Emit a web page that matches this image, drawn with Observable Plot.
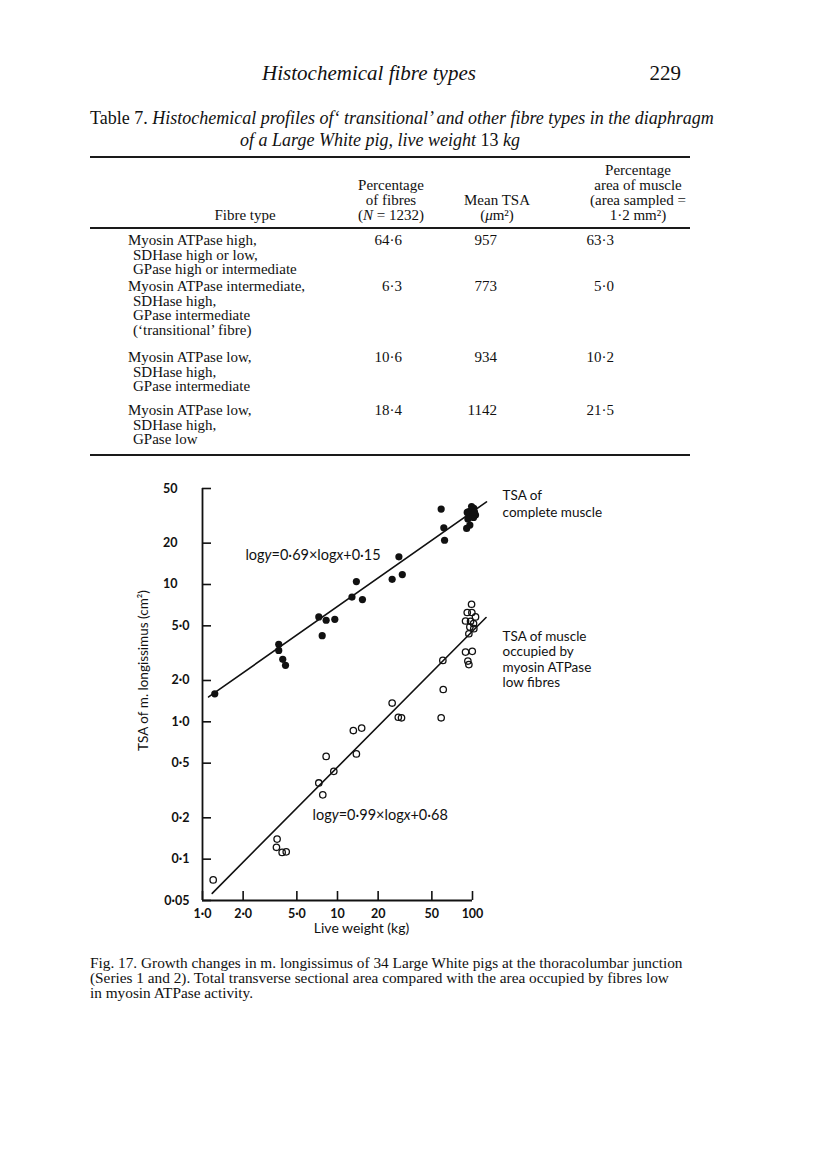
<!DOCTYPE html>
<html><head><meta charset="utf-8">
<script src="https://cdn.jsdelivr.net/npm/d3@7"></script>
<script src="https://cdn.jsdelivr.net/npm/@observablehq/plot@0.6"></script>
<style>
html,body{margin:0;padding:0;background:#fff;}
#page{position:relative;width:816px;height:1160px;overflow:hidden;font-family:"Liberation Serif","Times New Roman",serif;color:#111;}
.t{position:absolute;white-space:nowrap;font-size:15px;line-height:16px;}
.c{transform:translateX(-50%);}
.r{transform:translateX(-100%);}
.rule{position:absolute;left:90px;width:600px;background:#1a1a1a;}
#chart{position:absolute;left:0;top:470px;}
</style></head>
<body><div id="page"></div>
<script>
// ---------- Table 7 data ----------
const fibreTypes = [
  ["Myosin ATPase high,", "SDHase high or low,", "GPase high or intermediate"],
  ["Myosin ATPase intermediate,", "SDHase high,", "GPase intermediate", "(‘transitional’ fibre)"],
  ["Myosin ATPase low,", "SDHase high,", "GPase intermediate"],
  ["Myosin ATPase low,", "SDHase high,", "GPase low"]
];
const pctFibres = ["64·6", "6·3", "10·6", "18·4"];
const meanTSA = ["957", "773", "934", "1142"];
const pctArea = ["63·3", "5·0", "10·2", "21·5"];

// ---------- Fig. 17 data ----------
// TSA of complete muscle (filled circles)
const weightComplete = [1.233, 3.67, 3.67, 3.93, 4.12, 7.27, 7.70, 8.24, 9.55, 12.8, 13.8, 15.3, 25.4, 28.5, 30.2, 58.6, 61.3, 62.1,
  98.4, 102.3, 94.0, 99.6, 105.3, 96.7, 101.8, 90.5, 95.6, 91.4, 98.9, 100.6, 92.4, 103.5];
const tsaComplete = [1.60, 3.67, 3.31, 2.85, 2.58, 5.81, 4.24, 5.49, 5.58, 8.1, 10.5, 7.77, 10.9, 15.9, 11.8, 35.4, 25.9, 21.0,
  36.9, 35.9, 34.0, 33.0, 32.0, 31.2, 30.8, 25.6, 27.1, 33.5, 34.8, 31.8, 30.0, 33.6];
// TSA occupied by myosin ATPase low fibres (open circles)
const weightLow = [1.20, 3.57, 3.53, 3.89, 4.17, 7.27, 7.78, 8.24, 9.39, 13.1, 13.8, 15.1, 25.4, 28.2, 29.8, 58.6, 60.3, 60.7,
  98.4, 91.4, 98.9, 105.3, 88.8, 96.7, 101.8, 95.6, 102.3, 94.0, 88.8, 99.6, 92.4, 94.0];
const tsaLow = [0.0706, 0.140, 0.122, 0.112, 0.113, 0.359, 0.294, 0.56, 0.436, 0.864, 0.584, 0.90, 1.37, 1.08, 1.07, 1.07, 2.80, 1.72,
  7.18, 6.25, 6.25, 5.81, 5.42, 5.39, 5.19, 4.91, 4.77, 4.38, 3.22, 3.26, 2.77, 2.61];

// fitted lines log y = a·log x + b (open-circle intercept as drawn on the cm² axis)
const fitNames = ["complete", "low"];
const fitSlopes = [0.69, 0.99];
const fitIntercepts = [0.15, -1.32];
const fitFrom = [1.11, 1.18];
const fitTo = [127, 126];
const fitLabels = ["logy=0·69×logx+0·15", "logy=0·99×logx+0·68"];

const xTicks = [1, 2, 5, 10, 20, 50, 100];
const xTickLabels = ["1·0", "2·0", "5·0", "10", "20", "50", "100"];
const yTicks = [0.05, 0.1, 0.2, 0.5, 1, 2, 5, 10, 20, 50];
const yTickLabels = ["0·05", "0·1", "0·2", "0·5", "1·0", "2·0", "5·0", "10", "20", "50"];

// ---------- page text ----------
const page = document.getElementById("page");
function put(html, x, y, cls = "", style = "") {
  const d = document.createElement("div");
  d.className = "t " + cls;
  d.style.left = x + "px";
  d.style.top = (y - 9) + "px";
  d.style.cssText += style;
  d.innerHTML = html;
  page.appendChild(d);
  return d;
}
function rule(y, h) {
  const d = document.createElement("div");
  d.className = "rule";
  d.style.top = y + "px";
  d.style.height = h + "px";
  page.appendChild(d);
}
put("<i>Histochemical fibre types</i>", 369, 70, "c", "font-size:21px;line-height:24px;");
put("229", 681, 70, "r", "font-size:21px;line-height:24px;");
put("Table 7. <i>Histochemical profiles of‘ transitional’ and other fibre types in the diaphragm</i>", 90, 117, "", "font-size:18px;line-height:20px;");
put("<i>of a Large White pig, live weight</i> 13 <i>kg</i>", 380, 139, "c", "font-size:18px;line-height:20px;");
rule(156, 2);
put("Percentage", 638, 171, "c");
put("Percentage", 391, 186, "c");
put("area of muscle", 638, 186, "c");
put("of fibres", 391, 201, "c");
put("Mean TSA", 497, 201, "c");
put("(area sampled =", 638, 201, "c");
put("Fibre type", 245, 216, "c");
put("(<i>N</i> = 1232)", 391, 216, "c");
put("(<i>μ</i>m²)", 497, 216, "c");
put("1·2 mm²)", 638, 216, "c");
rule(227, 1.5);
const rowTop = [241, 287, 358, 411];
fibreTypes.forEach((lines, i) => {
  lines.forEach((s, j) => put(s, j === 0 ? 128 : 133, rowTop[i] + j * 14.5));
  put(pctFibres[i], 402, rowTop[i], "r");
  put(meanTSA[i], 497, rowTop[i], "r");
  put(pctArea[i], 614, rowTop[i], "r");
});
rule(454, 2);
put("Fig. 17. Growth changes in m. longissimus of 34 Large White pigs at the thoracolumbar junction", 90, 964, "", "font-size:15.3px;");
put("(Series 1 and 2). Total transverse sectional area compared with the area occupied by fibres low", 90, 979, "", "font-size:15.3px;");
put("in myosin ATPase activity.", 90, 994, "", "font-size:15.3px;");

// ---------- chart ----------
const complete = weightComplete.map((w, i) => ({weight: w, tsa: tsaComplete[i]}));
const low = weightLow.map((w, i) => ({weight: w, tsa: tsaLow[i]}));
const fits = fitNames.flatMap((n, i) => [fitFrom[i], fitTo[i]].map(w => ({
  series: n, weight: w, tsa: Math.pow(10, fitIntercepts[i] + fitSlopes[i] * Math.log10(w))
})));
const font = "Lato, 'Open Sans', sans-serif";
const isDecimal = (d, i) => yTickLabels[i].includes("·");

const chart = Plot.plot({
  width: 816,
  height: 480,
  marginLeft: 202,
  marginRight: 344,
  marginTop: 18,
  marginBottom: 50,
  style: {fontFamily: font, background: "transparent", color: "#111", overflow: "visible"},
  x: {type: "log", domain: [1, 100]},
  y: {type: "log", domain: [0.05, 50]},
  marks: [
    Plot.ruleX([1], {stroke: "#111", strokeWidth: 1.8}),
    Plot.ruleY([0.05], {stroke: "#111", strokeWidth: 1.8}),
    Plot.axisY({ticks: yTicks, tickSize: -9, tickFormat: () => "", strokeWidth: 1.6, label: null}),
    Plot.axisX({ticks: xTicks, tickSize: -9, tickFormat: () => "", strokeWidth: 1.6, label: null}),
    Plot.text(yTicks, {filter: isDecimal, y: d => d, text: (d, i) => yTickLabels[i], frameAnchor: "left", textAnchor: "end", dx: -13, fontSize: 12.5, fontWeight: "bold"}),
    Plot.text(yTicks, {filter: (d, i) => !isDecimal(d, i), y: d => d, text: (d, i) => yTickLabels[i], frameAnchor: "left", textAnchor: "end", dx: -25, fontSize: 12.5, fontWeight: "bold"}),
    Plot.text(xTicks, {x: d => d, text: (d, i) => xTickLabels[i], frameAnchor: "bottom", lineAnchor: "middle", dy: 13, fontSize: 12.5, fontWeight: "bold"}),
    Plot.text(["Live weight (kg)"], {frameAnchor: "bottom", lineAnchor: "middle", dx: 24, dy: 28, fontSize: 14}),
    Plot.text(["TSA of m. longissimus (cm²)"], {frameAnchor: "left", textAnchor: "middle", rotate: -90, dx: -59, dy: -24, fontSize: 13.5}),
    Plot.line(fits, {x: "weight", y: "tsa", z: "series", stroke: "#111", strokeWidth: 1.6}),
    Plot.dot(complete, {x: "weight", y: "tsa", r: 3.6, fill: "#111"}),
    Plot.dot(low, {x: "weight", y: "tsa", r: 3.2, stroke: "#111", strokeWidth: 1.3, fill: "none"}),
    Plot.text([fitLabels[0]], {x: 2.08, y: 16.3, textAnchor: "start", fontSize: 14.5}),
    Plot.text([fitLabels[1]], {x: 6.54, y: 0.21, textAnchor: "start", fontSize: 14.5}),
    Plot.text(["TSA of\ncomplete muscle"], {x: 167, y: 50, textAnchor: "start", lineAnchor: "top", lineHeight: 1.25, fontSize: 13.5}),
    Plot.text(["TSA of muscle\noccupied by\nmyosin ATPase\nlow fibres"], {x: 167, y: 4.7, textAnchor: "start", lineAnchor: "top", lineHeight: 1.15, fontSize: 13.5})
  ]
});
chart.id = "chart";
// italicise the variables x and y in the regression labels
chart.querySelectorAll("text").forEach(t => {
  const s = t.textContent;
  if (s.startsWith("logy=")) {
    const m = s.match(/^logy=(.*)×logx(.*)$/);
    if (m) {
      t.textContent = "";
      const parts = [["log", false], ["y", true], ["=" + m[1] + "×log", false], ["x", true], [m[2], false]];
      parts.forEach(([txt, it]) => {
        const ts = document.createElementNS("http://www.w3.org/2000/svg", "tspan");
        ts.textContent = txt;
        if (it) ts.setAttribute("font-style", "italic");
        t.appendChild(ts);
      });
    }
  }
});
page.appendChild(chart);
</script>
</body></html>
